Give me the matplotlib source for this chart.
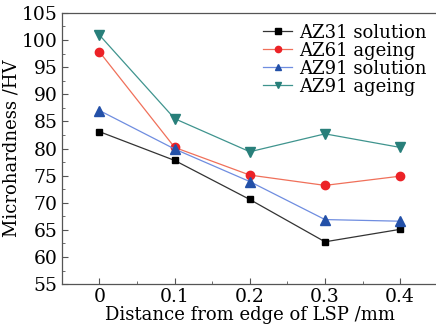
import numpy as np
import matplotlib.pyplot as plt
from matplotlib.ticker import MultipleLocator

# 数据
distance = [0, 0.1, 0.2, 0.3, 0.4]
az31_solution = [83.1, 77.8, 70.6, 62.8, 65.1]
az61_ageing = [97.8, 80.2, 75.1, 73.2, 74.9]
az91_solution = [87.0, 79.9, 73.9, 66.9, 66.6]
az91_ageing = [100.9, 85.5, 79.4, 82.7, 80.2]

plt.rcParams['font.family'] = ['DejaVu Serif']
plt.rcParams['mathtext.fontset'] = 'dejavuserif'

fig = plt.figure(figsize=(4.36, 3.30), dpi=100)
ax = fig.add_axes([0.142, 0.139, 0.862, 0.822])

ax.plot(distance, az31_solution, '-s', color='#333333', mfc='black', mec='black', ms=5, lw=0.9, label='AZ31 solution')
ax.plot(distance, az61_ageing, '-o', color='#f0705a', mfc='#ec2227', mec='#ec2227', ms=6, lw=0.9, label='AZ61 ageing')
ax.plot(distance, az91_solution, '-^', color='#6f8de0', mfc='#2350a8', mec='#2350a8', ms=6.5, lw=0.9, label='AZ91 solution')
ax.plot(distance, az91_ageing, '-v', color='#3f948e', mfc='#287f7a', mec='#287f7a', ms=6.5, lw=0.9, label='AZ91 ageing')

ax.set_xlim(-0.05, 0.45)
ax.set_ylim(55, 105)
ax.set_xticks(distance)
ax.set_xticklabels(['0', '0.1', '0.2', '0.3', '0.4'])
ax.set_yticks(np.arange(55, 106, 5))
ax.xaxis.set_minor_locator(MultipleLocator(0.05))
ax.yaxis.set_minor_locator(MultipleLocator(2.5))
ax.tick_params(which='both', direction='in', labelsize=13.5, color='#555555')
ax.tick_params(which='major', length=4, pad=3)
ax.tick_params(which='minor', length=2.5)
ax.spines['right'].set_visible(False)
for s in ['left', 'bottom', 'top']:
    ax.spines[s].set_color('#555555')
    ax.spines[s].set_linewidth(0.9)

ax.set_xlabel('Distance from edge of LSP /mm', fontsize=13, labelpad=0)
ax.set_ylabel('Microhardness /HV', fontsize=13, labelpad=1)

ax.legend(loc='upper right', frameon=False, fontsize=13, handlelength=1.6,
          handletextpad=0.4, labelspacing=0.0, borderaxespad=0.2,
          markerscale=0.75, bbox_to_anchor=(1.0, 1.0))

fig.savefig('out.png', dpi=100)
